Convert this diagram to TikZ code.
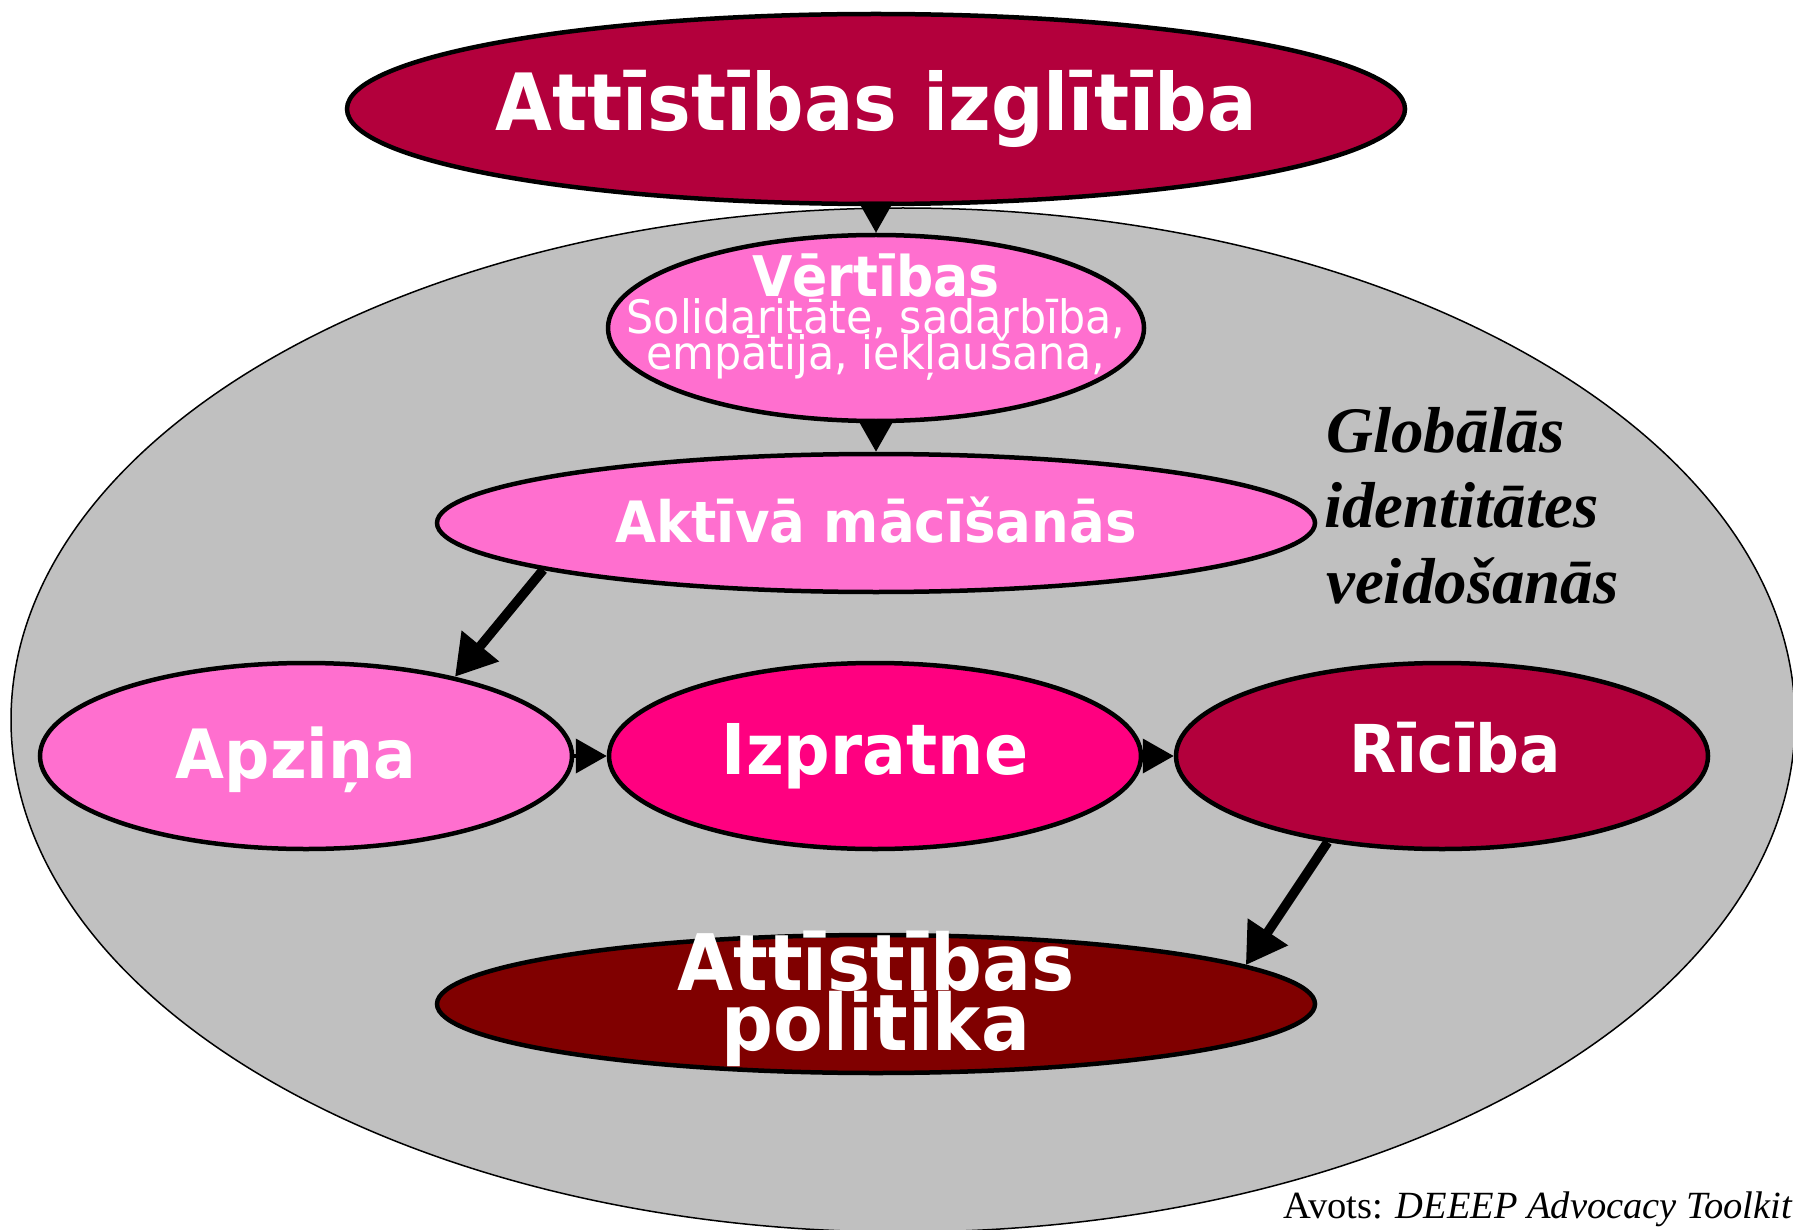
\documentclass[tikz,border=0pt]{standalone}
\usepackage{fontspec}
\usetikzlibrary{shapes.geometric,arrows.meta}
\newfontfamily\dvs[FakeStretch=0.93]{DejaVu Sans}
\newfontfamily\lsf{Liberation Serif}
\definecolor{crim}{RGB}{179,0,60}
\definecolor{pinkl}{RGB}{255,111,207}
\definecolor{hotp}{RGB}{255,0,128}
\definecolor{maroonc}{RGB}{128,0,0}
\definecolor{grayb}{RGB}{192,192,192}
\begin{document}
\begin{tikzpicture}[x=1pt,y=-1pt,
  ell/.style={ellipse, draw=black, line width=4.5pt, inner sep=0pt},
  wt/.style={text=white, inner sep=0pt, anchor=base},
  arr/.style={-{Triangle[length=40pt,width=46pt]}, line width=9.5pt},
  tipa/.style={-{Triangle[length=31pt,width=34pt]}, line width=4pt}]
\useasboundingbox (0,0) rectangle (1793,1230);
\clip (0,0) rectangle (1793,1230);
\fill[white] (0,0) rectangle (1793,1230);
% big gray ellipse
\node[ellipse, draw=black, fill=grayb, line width=1.5pt, inner sep=0pt,
      minimum width=1784pt, minimum height=1024pt] (glob) at (903,720) {};
% ellipses
\node[ell, fill=crim, minimum width=1058pt, minimum height=190pt] (top) at (876,109) {};
\node[ell, fill=pinkl, minimum width=536pt, minimum height=186pt] (vert) at (876,328) {};
\node[ell, fill=pinkl, minimum width=878pt, minimum height=138pt] (akt) at (876,523) {};
\node[ell, fill=pinkl, minimum width=532pt, minimum height=186pt] (apz) at (306,756) {};
\node[ell, fill=hotp, minimum width=532pt, minimum height=186pt] (izp) at (875,756) {};
\node[ell, fill=crim, minimum width=532pt, minimum height=186pt] (ric) at (1442,756) {};
\node[ell, fill=maroonc, minimum width=878pt, minimum height=138pt] (pol) at (876,1004) {};
% connectors
\draw[tipa] (top.south) -- (vert.north);
\draw[tipa] (vert.south) -- (akt.north);
\draw[arr] (akt.188) -- (apz.28);
\draw[tipa] (apz.east) -- (izp.west);
\draw[tipa] (izp.east) -- (ric.west);
\draw[arr] (ric.217) -- (pol.6);
% texts
\node[wt, font=\dvs\bfseries\fontsize{79}{79}\selectfont] (ttop) at (876,131) {Attīstības izglītība};
\node[wt, font=\dvs\bfseries\fontsize{56}{56}\selectfont] (tvert) at (876,297) {Vērtības};
\node[wt, font=\dvs\fontsize{46}{46}\selectfont] (tsol) at (876,334) {Solidaritāte, sadarbība,};
\node[wt, font=\dvs\fontsize{46}{46}\selectfont] (temp) at (876,370) {empātija, iekļaušana,};
\node[wt, font=\dvs\bfseries\fontsize{57}{57}\selectfont] (takt) at (876,542) {Aktīvā mācīšanās};
\node[wt, font=\dvs\bfseries\fontsize{68}{68}\selectfont] (tapz) at (296,778) {Apziņa};
\node[wt, font=\dvs\bfseries\fontsize{70}{70}\selectfont] (tizp) at (875,774) {Izpratne};
\node[wt, font=\dvs\bfseries\fontsize{66}{66}\selectfont] (tric) at (1455,772) {Rīcība};
\node[wt, font=\dvs\bfseries\fontsize{78}{78}\selectfont] (tpol1) at (876,990) {Attīstības};
\node[wt, font=\dvs\bfseries\fontsize{78}{78}\selectfont] (tpol2) at (876,1050) {politika};
% side text
\node[inner sep=0pt, anchor=base west, font=\lsf\bfseries\itshape\fontsize{65}{65}\selectfont] (g1) at (1326,452) {Globālās};
\node[inner sep=0pt, anchor=base west, font=\lsf\bfseries\itshape\fontsize{65}{65}\selectfont] (g2) at (1324,527) {identitātes};
\node[inner sep=0pt, anchor=base west, font=\lsf\bfseries\itshape\fontsize{65}{65}\selectfont] (g3) at (1326,603) {veidošanās};
\node[inner sep=0pt, anchor=base east, font=\lsf\fontsize{38.5}{38.5}\selectfont] (src) at (1793,1218) {Avots: \textit{DEEEP Advocacy Toolkit}};
\end{tikzpicture}
\end{document}
